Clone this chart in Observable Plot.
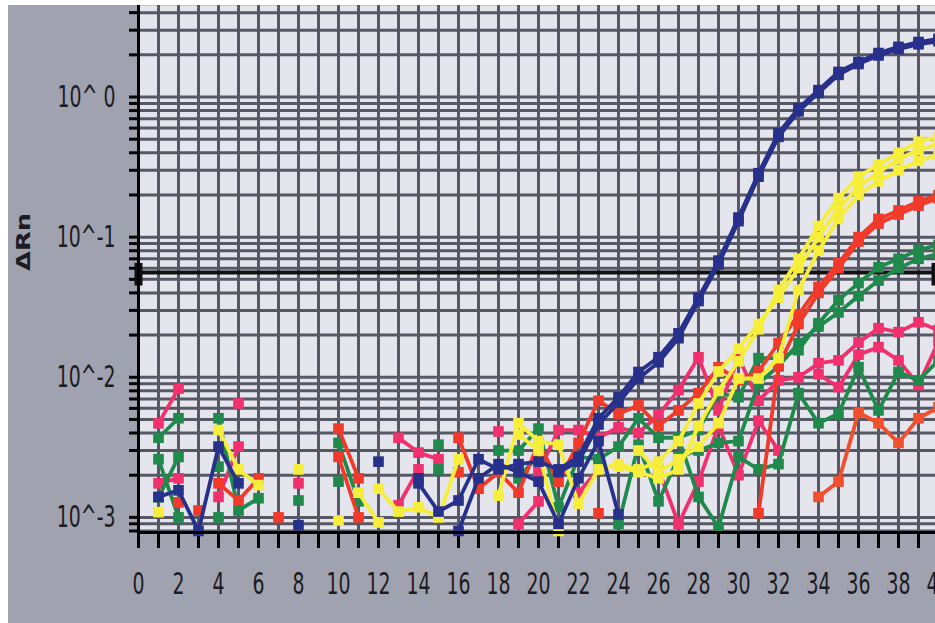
<!DOCTYPE html>
<html><head><meta charset="utf-8">
<script src="https://cdn.jsdelivr.net/npm/d3@7"></script>
<script src="https://cdn.jsdelivr.net/npm/@observablehq/plot@0.6"></script>
<style>
html,body{margin:0;padding:0;background:#fff;overflow:hidden;width:935px;height:623px;}
#chart{position:absolute;left:8px;top:5px;width:927px;height:618px;overflow:hidden;background:#a0a2af;}
#chart svg g[aria-label^="x-axis"] text, #chart svg g[aria-label^="y-axis"] text{
  font-family:"DejaVu Sans",sans-serif;font-size:30px;fill:#1c1c22;}
#chart svg g[aria-label^="x-axis"] line, #chart svg g[aria-label^="x-axis"] path,
#chart svg g[aria-label^="y-axis"] line, #chart svg g[aria-label^="y-axis"] path{stroke:#000;stroke-width:3px;}
</style></head><body><div id="chart"></div><script>
// cycles 1..40 ; null = no point shown (value not positive)
const cycles = d3.range(1, 41);
const blue1 = [0.0014,0.00156,0.0008,0.0032,0.00175,null,null,0.00088,null,null,
  null,0.0025,null,0.00175,0.0011,0.00132,0.0026,0.0022,0.0024,0.0025,
  0.0022,0.0027,0.0051,0.0072,0.0109,0.0139,0.0206,0.037,0.068,0.138,
  0.286,0.553,0.834,1.12,1.51,1.78,2.06,2.28,2.47,2.6];
const blue2 = [null,null,null,null,null,null,null,null,null,null,
  null,null,null,null,null,null,null,null,null,null,
  0.0021,0.0025,0.0046,0.0066,0.0098,0.0128,0.019,0.035,0.064,0.13,
  0.27,0.52,0.79,1.07,1.44,1.72,1.98,2.2,2.38,2.5];
const blue3 = [null,null,null,null,null,null,null,null,null,null,
  null,null,null,0.0019,null,0.0008,0.0019,0.0024,0.0021,0.0018,
  0.0009,0.0019,0.0035,0.00105,null,null,null,null,null,null,
  null,null,null,null,null,null,null,null,null,null];
const yellow1 = [0.00109,null,null,0.0042,0.0022,0.0017,null,0.0022,null,0.00095,
  null,0.0016,0.0011,0.00118,0.001,0.0026,null,0.00143,0.0047,0.0035,
  0.0033,0.00125,0.0022,0.0024,0.0022,0.0025,0.0035,0.0065,0.011,0.016,
  0.024,0.037,0.06,0.1,0.16,0.23,0.29,0.36,0.42,0.46];
const yellow2 = [null,null,null,null,null,null,null,null,null,null,
  0.0015,0.00092,null,null,null,null,null,null,0.0039,0.003,
  0.0008,null,null,0.0023,0.0021,0.0019,0.0022,0.0045,0.008,0.013,
  0.022,0.042,0.07,0.12,0.19,0.27,0.33,0.4,0.48,0.52];
const yellow3 = [null,null,null,null,null,null,null,null,null,null,
  null,null,null,null,null,null,null,null,null,null,
  null,null,null,null,0.003,0.0021,0.0026,0.0032,0.0047,0.0098,
  0.0098,0.0137,0.042,0.08,0.135,0.2,0.25,0.3,0.35,0.39];
const red1 = [null,0.00128,null,0.00175,0.00132,0.0019,null,null,null,0.0043,
  0.0019,null,null,null,null,0.0037,0.0016,0.0021,0.0015,0.0034,
  0.0018,0.0034,0.0068,0.0055,0.0063,0.0045,0.0058,0.0077,0.0118,0.0095,
  0.011,0.0175,0.028,0.044,0.065,0.1,0.135,0.155,0.18,0.2];
const red2 = [null,null,0.00112,null,null,null,0.001,null,null,0.0027,
  0.001,null,null,null,null,0.0021,null,null,null,0.0027,
  null,null,0.00107,null,null,null,null,null,null,null,
  0.00107,0.012,0.024,0.04,0.06,0.093,0.125,0.145,0.168,0.19];
const orange1 = [null,null,null,null,null,null,null,null,null,null,
  null,null,null,null,null,null,null,null,null,null,
  null,null,null,null,null,null,null,null,null,null,
  null,null,null,0.0014,0.0018,0.0056,0.0047,0.0034,0.0051,0.0061];
const green1 = [0.0037,0.0051,null,0.0051,0.00112,0.00137,null,0.00132,null,0.0034,
  0.0013,null,null,null,0.0033,null,null,0.003,0.003,0.0043,
  0.00118,0.0027,0.0026,0.0032,0.0051,0.0037,0.0037,0.0042,0.0077,0.0072,
  0.0137,0.0137,0.0156,0.0243,0.0355,0.047,0.061,0.07,0.081,0.088];
const green2 = [0.00139,0.0027,null,0.0023,null,null,null,null,null,0.0018,
  null,null,null,null,0.0022,null,null,null,0.0019,0.0028,
  null,null,null,0.0009,0.0033,0.0013,0.0027,0.003,0.0034,0.0035,
  0.009,0.012,0.0175,0.023,0.029,0.038,0.049,0.06,0.07,0.076];
const green3 = [0.0026,0.001,null,0.001,null,null,null,null,null,null,
  null,null,null,null,null,null,null,null,null,null,
  null,null,null,null,null,null,0.0037,0.0014,0.00085,0.0027,
  0.0022,0.0024,0.0077,0.0047,0.0055,0.0118,0.0058,0.0109,0.0095,0.0132];
const pink1 = [0.00469,0.0083,null,null,0.0065,null,null,null,null,null,
  null,null,0.0037,0.0029,0.0026,null,null,0.0041,null,0.0021,
  0.0042,0.0042,0.0037,0.0044,0.004,0.0054,0.0081,0.0139,0.0058,0.0139,
  0.0068,0.0095,0.01,0.0126,0.0132,0.0177,0.0224,0.021,0.0247,0.0217];
const pink2 = [0.00175,0.0019,null,0.0014,0.0032,null,null,0.00175,null,null,
  null,null,0.00122,0.0022,null,null,null,null,0.0009,0.0013,
  null,0.0015,0.0022,null,null,0.0022,0.0009,0.0018,0.0045,0.002,
  0.0049,0.003,null,0.0105,0.0085,0.0145,0.0164,0.0132,0.0088,0.018];

const seriesNames = ["pink2","pink1","green3","green2","green1","orange1","red2","red1","yellow3","yellow2","yellow1","blue3","blue2","blue1"];
const seriesValues = [pink2,pink1,green3,green2,green1,orange1,red2,red1,yellow3,yellow2,yellow1,blue3,blue2,blue1];
const seriesColors = ["#f2306e","#f2306e","#1f8a4c","#1f8a4c","#1f8a4c","#f0502e","#f23a2b","#f23a2b","#f7ee3c","#f7ee3c","#f7ee3c","#27318c","#27318c","#27318c"];

const threshold = 0.056;
const xDomain = [0, 40];
const yDomain = [0.00078, 4.5];
const yDecades = [0, -1, -2, -3];
const yDecadeLabels = ["10^ 0", "10^-1", "10^-2", "10^-3"];
const xTickLabelStep = 2;

const yTicks = d3.range(-4, 1).flatMap(e => d3.range(1, 10).map(k => k * 10 ** e))
  .filter(v => v >= yDomain[0] && v <= yDomain[1]);
const xTicks = d3.range(xDomain[0], xDomain[1] + 1);

const marks = [
  Plot.frame({fill: "#e5e5ed", stroke: null}),
  Plot.ruleX(xTicks, {stroke: "#565965", strokeWidth: 3}),
  Plot.ruleY(yTicks, {stroke: "#565965", strokeWidth: 3}),
  Plot.ruleY([threshold], {stroke: "#111", strokeWidth: 4}),
  Plot.ruleX([xDomain[0]], {y1: threshold * 1.16, y2: threshold / 1.25, stroke: "#111", strokeWidth: 8}),
  Plot.ruleX([xDomain[1]], {y1: threshold * 1.16, y2: threshold / 1.25, stroke: "#111", strokeWidth: 14}),
];
seriesNames.forEach((name, i) => {
  const rows = cycles.map((c, j) => ({cycle: c, value: seriesValues[i][j]}));
  marks.push(Plot.line(rows, {x: "cycle", y: "value", stroke: seriesColors[i], strokeWidth: 3.8}));
  marks.push(Plot.dot(rows.filter(d => d.value != null), {x: "cycle", y: "value", fill: seriesColors[i], symbol: "square", r: 6}));
});
marks.push(Plot.ruleX([xDomain[0]], {stroke: "#000", strokeWidth: 3}));
marks.push(Plot.ruleY([yDomain[0]], {stroke: "#000", strokeWidth: 3}));

const chart = Plot.plot({
  width: 927, height: 618,
  marginLeft: 130, marginRight: -3, marginTop: 0, marginBottom: 91,
  style: {background: "transparent", overflow: "visible"},
  x: {domain: xDomain, ticks: xTicks, tickSize: 16, tickPadding: 24,
      tickFormat: d => d % xTickLabelStep === 0 ? String(d) : "", label: null},
  y: {type: "log", domain: yDomain, ticks: yTicks, tickSize: 9, tickPadding: 14, label: null,
      tickFormat: d => { const i = yDecades.findIndex(e => Math.abs(d - 10 ** e) < 1e-12); return i < 0 ? "" : yDecadeLabels[i]; }},
  marks
});
document.getElementById("chart").appendChild(chart);
// condense the tick labels horizontally (narrow typeface look)
d3.select(chart).selectAll('g[aria-label^="x-axis"] text, g[aria-label^="y-axis"] text').each(function() {
  const w = this.getComputedTextLength();
  if (w > 0) { this.setAttribute("textLength", w * 0.63); this.setAttribute("lengthAdjust", "spacingAndGlyphs"); }
});
d3.select(chart).append("text")
  .attr("transform", "translate(16,237) rotate(-90)")
  .attr("text-anchor", "middle").attr("dominant-baseline", "middle")
  .attr("textLength", 58).attr("lengthAdjust", "spacingAndGlyphs")
  .style("font-family", "'DejaVu Sans', sans-serif").style("font-weight", "bold").style("font-size", "19px").style("fill", "#1c1c22")
  .text("ΔRn");
</script></body></html>
